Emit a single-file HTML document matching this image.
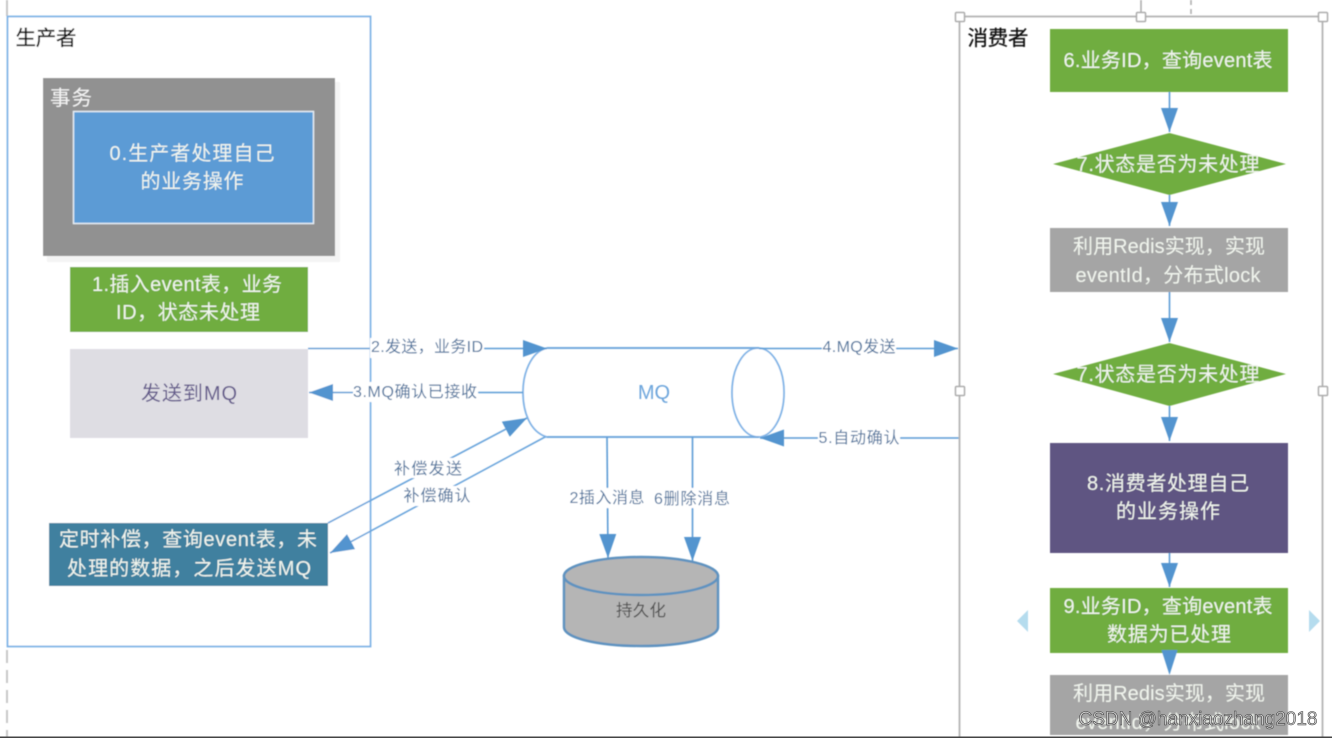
<!DOCTYPE html>
<html><head><meta charset="utf-8">
<style>
html,body{margin:0;padding:0;background:#fff;width:1332px;height:738px;overflow:hidden}
svg{display:block}
text{font-family:"Liberation Sans","Noto Sans CJK SC",sans-serif;text-anchor:middle}
.w{fill:#f1f5ee;font-size:20px}
.l{fill:#4f759e;font-size:16px}
.h{fill:#111;font-size:20.500px;stroke:#111;stroke-width:.25px}
</style></head><body>
<svg width="1332" height="738" viewBox="0 0 1332 738" xmlns="http://www.w3.org/2000/svg">
<defs>
<filter id="b" x="-5%" y="-5%" width="110%" height="110%"><feGaussianBlur stdDeviation="0.5"/></filter>
<marker id="a" markerUnits="userSpaceOnUse" markerWidth="26" markerHeight="18" refX="24" refY="8.500" orient="auto"><path d="M0 0L24 8.500L0 17Z" fill="#5394cf"/></marker>
</defs>
<g filter="url(#b)">
<!-- outer guides -->
<path d="M7 0V16" stroke="#c8c8c8" stroke-width="2"/>
<path d="M7 650V738" stroke="#c8c8c8" stroke-width="2" stroke-dasharray="13 7"/>
<path d="M1141 0V16" stroke="#aaa" stroke-width="1.500"/>
<path d="M1191 0V16" stroke="#aaa" stroke-width="1.500" stroke-dasharray="5 4"/>

<!-- producer -->
<rect x="7.500" y="16.500" width="363" height="630" fill="#fff" stroke="#7fb3e6" stroke-width="1.800"/>
<text class="h" x="46" y="45" textLength="61">生产者</text>
<rect x="47" y="82" width="293" height="180" fill="#f4f4f4"/>
<rect x="43" y="78" width="292" height="178" fill="#919191"/>
<text x="71" y="105" font-size="20.500" fill="#f4f4f4" textLength="42">事务</text>
<rect x="73.500" y="111.500" width="240" height="112" fill="#5b9bd5" stroke="#e8eef5" stroke-width="1.500"/>
<text class="w" x="192" y="160" textLength="165">0.生产者处理自己</text>
<text class="w" x="192" y="188" textLength="103">的业务操作</text>

<rect x="70" y="267" width="238" height="65" fill="#70ad40"/>
<text class="w" x="187" y="291" textLength="190">1.插入event表，业务</text>
<text class="w" x="188" y="319" textLength="144">ID，状态未处理</text>

<rect x="70" y="349" width="238" height="89" fill="#dedde3"/>
<text x="189" y="400" font-size="20" fill="#62598a" textLength="96">发送到MQ</text>

<rect x="49" y="523" width="279" height="63" fill="#41809f"/>
<text class="w" x="188" y="546" textLength="258">定时补偿，查询event表，未</text>
<text class="w" x="189" y="575" textLength="244">处理的数据，之后发送MQ</text>

<!-- MQ cylinder -->
<path d="M547 348H759M545 437H759M547 348C530 352 523 375 523 392C523 412 530 432 547 437" fill="#fff" stroke="#7fb3e6" stroke-width="1.800"/>
<ellipse cx="758" cy="392.500" rx="26" ry="44.500" fill="#fff" stroke="#7fb3e6" stroke-width="1.800"/>
<path d="M547 348H759M547 437H759" stroke="#6fa6dc" stroke-width="1.800"/>
<text x="654" y="399" font-size="20" fill="#6ea6dc">MQ</text>

<!-- connectors -->
<path d="M308 348.500H547" stroke="#5b9bd5" stroke-width="1.600" marker-end="url(#a)"/>
<path d="M523 392.500H309" stroke="#5b9bd5" stroke-width="1.600" marker-end="url(#a)"/>
<path d="M328 523L527 418" stroke="#6ba5dc" stroke-width="1.600" marker-end="url(#a)"/>
<path d="M545 437L330 553" stroke="#6ba5dc" stroke-width="1.600" marker-end="url(#a)"/>
<path d="M607 437L608 558" stroke="#5b9bd5" stroke-width="1.600" marker-end="url(#a)"/>
<path d="M692.500 437V561" stroke="#5b9bd5" stroke-width="1.600" marker-end="url(#a)"/>
<path d="M759 348.500H958" stroke="#5b9bd5" stroke-width="1.600" marker-end="url(#a)"/>
<path d="M959 438H760" stroke="#5b9bd5" stroke-width="1.600" marker-end="url(#a)"/>

<!-- connector labels -->
<rect x="370" y="338" width="114" height="20" fill="#fff"/>
<text class="l" x="427" y="352" textLength="112">2.发送，业务ID</text>
<rect x="353" y="382" width="125" height="20" fill="#fff"/>
<text class="l" x="415" y="397" textLength="124">3.MQ确认已接收</text>
<rect x="393" y="458" width="70" height="20" fill="#fff"/>
<text class="l" x="428" y="474" textLength="68">补偿发送</text>
<rect x="402" y="486" width="70" height="20" fill="#fff"/>
<text class="l" x="437" y="501" textLength="67">补偿确认</text>
<rect x="568" y="488" width="78" height="20" fill="#fff"/>
<text class="l" x="607" y="503" textLength="75">2插入消息</text>
<rect x="652" y="488" width="78" height="20" fill="#fff"/>
<text class="l" x="692" y="504" textLength="76">6删除消息</text>
<rect x="822" y="338" width="74" height="20" fill="#fff"/>
<text class="l" x="859" y="352" textLength="73">4.MQ发送</text>
<rect x="818" y="428" width="82" height="20" fill="#fff"/>
<text class="l" x="859" y="443" textLength="81">5.自动确认</text>

<!-- database -->
<path d="M564 576V627C564 638 598 646 641 646C684 646 718 638 718 627V576Z" fill="#b5b5b5" stroke="#5f93c0" stroke-width="2.500"/>
<ellipse cx="641" cy="576" rx="77" ry="19" fill="#b5b5b5" stroke="#5f93c0" stroke-width="2.500"/>
<text x="641" y="616" font-size="16.500" fill="#505050" textLength="50">持久化</text>

<!-- consumer -->
<rect x="959.500" y="16.500" width="363" height="740" fill="none" stroke="#b4b4b4" stroke-width="1.800"/>
<g fill="#fff" stroke="#aaa" stroke-width="1.500">
<rect x="955.500" y="12.500" width="9" height="9" rx="1"/>
<rect x="1136.500" y="12.500" width="9" height="9" rx="1"/>
<rect x="1318.500" y="12.500" width="9" height="9" rx="1"/>
<rect x="955.500" y="386.500" width="9" height="9" rx="1"/>
<rect x="1318.500" y="386.500" width="9" height="9" rx="1"/>
</g>
<text class="h" x="998" y="45" textLength="61">消费者</text>

<!-- consumer flow arrows -->
<g stroke="#5b9bd5" stroke-width="1.600">
<path d="M1169.500 92V132" marker-end="url(#a)"/>
<path d="M1169.500 195V226" marker-end="url(#a)"/>
<path d="M1169.500 292V342" marker-end="url(#a)"/>
<path d="M1169.500 406V441" marker-end="url(#a)"/>
<path d="M1169.500 553V587" marker-end="url(#a)"/>
</g>

<rect x="1050" y="29" width="238" height="63" fill="#70ad40"/>
<text class="w" x="1168" y="67" textLength="209">6.业务ID，查询event表</text>

<path d="M1053 164L1169.500 133L1286 164L1169.500 195Z" fill="#70ad40"/>
<text class="w" x="1168" y="171" textLength="183">7.状态是否为未处理</text>

<rect x="1050" y="228" width="238" height="64" fill="#a5a5a5"/>
<text class="w" x="1169" y="253" textLength="192">利用Redis实现，实现</text>
<text class="w" x="1168" y="282" textLength="185">eventId，分布式lock</text>

<path d="M1053 374L1169.500 343L1286 374L1169.500 406Z" fill="#70ad40"/>
<text class="w" x="1168" y="381" textLength="183">7.状态是否为未处理</text>

<rect x="1050" y="443" width="238" height="110" fill="#5f5582"/>
<text class="w" x="1168" y="490" textLength="162">8.消费者处理自己</text>
<text class="w" x="1168" y="518" textLength="104">的业务操作</text>

<rect x="1050" y="588" width="238" height="65" fill="#70ad40"/>
<text class="w" x="1168" y="613" textLength="209">9.业务ID，查询event表</text>
<text class="w" x="1169" y="641" textLength="124">数据为已处理</text>

<rect x="1050" y="675" width="238" height="60" fill="#a5a5a5"/>
<text class="w" x="1169" y="700" textLength="192">利用Redis实现，实现</text>
<text class="w" x="1168" y="729" textLength="185">eventId，分布式lock</text>
<path d="M1161.500 650H1177.500L1169.500 675Z" fill="#5394cf"/>

<path d="M1017 621L1028 610V632Z" fill="#b5dcee"/>
<path d="M1309 610L1320 621L1309 632Z" fill="#b5dcee"/>
</g>

<text x="1198" y="725" font-size="19" fill="#cfcfcf" stroke="#3d3d3d" stroke-width="0.550" textLength="239">CSDN @hanxiaozhang2018</text>
<rect x="0" y="736.500" width="1332" height="1.500" fill="#444"/>
</svg>
</body></html>
